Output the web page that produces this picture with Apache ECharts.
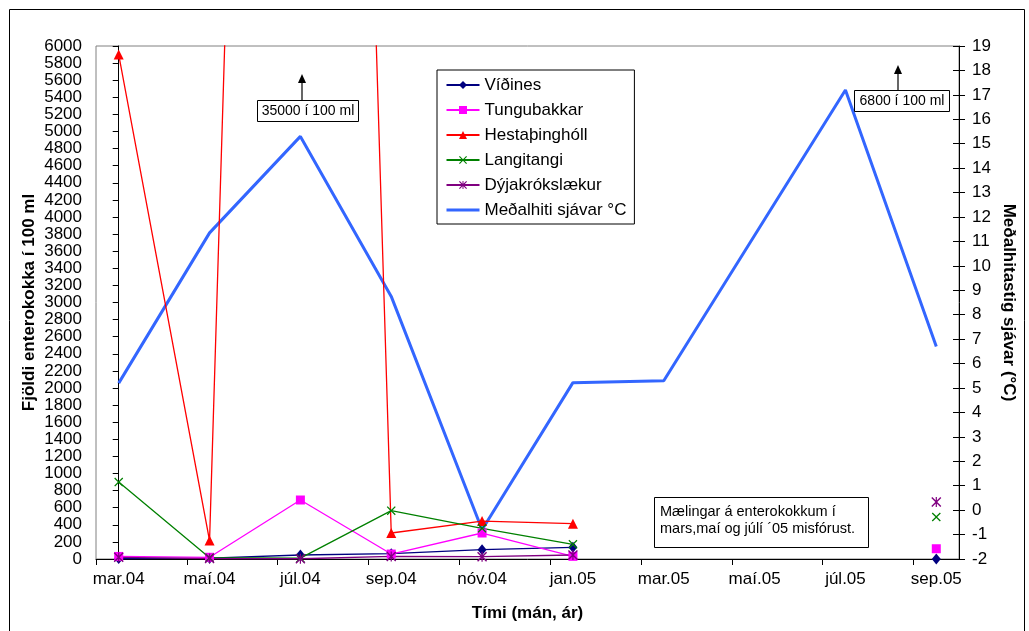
<!DOCTYPE html>
<html><head><meta charset="utf-8">
<script src="https://cdn.jsdelivr.net/npm/echarts@6/dist/echarts.min.js"></script>
<style>html,body{margin:0;padding:0;background:#fff}#c{width:1029px;height:631px}</style>
</head><body><div id="c"></div>
<script>
// ---- data ----
const categories = ['mar.04','maí.04','júl.04','sep.04','nóv.04','jan.05','mar.05','maí.05','júl.05','sep.05'];
const vidines      = [5, 10, 47, 62, 109, 136, null, null, null, 0];
const tungubakkar  = [30, 20, 690, 58, 304, 31, null, null, null, 120];
const hestathing   = [5900, 215, 35000, 304, 444, 413, null, null, null, null];
const langitangi   = [900, 15, 10, 565, 359, 172, null, null, null, 491];
const dyjakroks    = [20, 5, 3, 30, 27, 47, null, null, null, 667];
const seaTemp      = [5.2, 11.35, 15.3, 8.75, -0.8, 5.22, 5.3, null, 17.2, 6.7];
const leftTicks  = {min: 0, max: 6000, interval: 200};
const rightTicks = {min: -2, max: 19, interval: 1};

const F = '"Liberation Sans", Arial, sans-serif';
const toPairs = arr => arr.map((v, i) => [i, v === null ? '-' : v]);
const xTickVals = categories.map((_, i) => i - 0.25);
const xLabelVals = categories.map((_, i) => i);

const X_SYM = 'path://M0,1L1,0L5,4L9,0L10,1L6,5L10,9L9,10L5,6L1,10L0,9L4,5Z';
const AST_SYM = 'path://M0,1L1,0L5,4L9,0L10,1L6,5L10,9L9,10L5,6L1,10L0,9L4,5Z M4.4,0L5.6,0L5.6,10L4.4,10Z';

function bact(name, data, color, symbol, size) {
  return {
    name, type: 'line', data: toPairs(data), xAxisIndex: 0, yAxisIndex: 0,
    symbol, symbolSize: size, showSymbol: true, connectNulls: false, clip: true,
    lineStyle: {color, width: 1.3}, itemStyle: {color, borderWidth: 0},
    emphasis: {disabled: true}, animation: false, z: 3
  };
}

const chart = echarts.init(document.getElementById('c'), null, {renderer: 'canvas'});
const axisTextStyle = {color: '#000', fontFamily: F, fontSize: 17};
const nameStyle = {color: '#000', fontFamily: F, fontSize: 17, fontWeight: 'bold'};
const plain = v => String(v);

chart.setOption({
  animation: false,
  backgroundColor: '#fff',
  grid: {left: 96, right: 70, top: 46, bottom: 72, show: true, borderColor: '#808080', borderWidth: 1, backgroundColor: 'transparent'},
  legend: {
    orient: 'vertical', left: 437, top: 70,
    padding: [5, 8, 4, 8], itemGap: 5, itemWidth: 33, itemHeight: 10,
    borderColor: '#000', borderWidth: 1, backgroundColor: '#fff',
    textStyle: {color: '#000', fontFamily: F, fontSize: 17, lineHeight: 20},
    data: ['Víðines','Tungubakkar','Hestaþinghóll','Langitangi','Dýjakrókslækur',
      {name: 'Meðalhiti sjávar °C', itemStyle: {color: 'rgba(0,0,0,0)', opacity: 0}, lineStyle: {color: '#3366FF', width: 3, opacity: 1}}]
  },
  xAxis: [{
    type: 'value', min: -0.25, max: 9.25,
    name: 'Tími (mán, ár)', nameLocation: 'middle', nameGap: 46, nameTextStyle: nameStyle, nameMoveOverlap: false,
    axisLine: {show: true, onZero: false, lineStyle: {color: '#000', width: 1}},
    axisTick: {show: true, inside: false, length: 6, customValues: xTickVals, lineStyle: {color: '#000'}},
    axisLabel: {show: true, margin: 12, customValues: xLabelVals, ...axisTextStyle,
      formatter: v => categories[Math.round(v)] || ''},
    splitLine: {show: false}
  }],
  yAxis: [{
    type: 'value', position: 'left', ...leftTicks,
    name: 'Fjöldi enterokokka í 100 ml', nameLocation: 'middle', nameGap: 58, nameRotate: 90, nameTextStyle: nameStyle, nameMoveOverlap: false,
    axisLine: {show: true, lineStyle: {color: '#000', width: 1}},
    axisTick: {show: true, inside: false, length: 6, lineStyle: {color: '#000'}},
    axisLabel: {margin: 14, ...axisTextStyle, formatter: plain},
    splitLine: {show: false}
  }, {
    type: 'value', position: 'right', ...rightTicks,
    name: 'Meðalhitastig sjávar (°C)', nameLocation: 'middle', nameGap: 41, nameRotate: -90, nameTextStyle: nameStyle, nameMoveOverlap: false,
    axisLine: {show: true, lineStyle: {color: '#000', width: 1}},
    axisTick: {show: true, inside: false, length: 6, lineStyle: {color: '#000'}},
    axisLabel: {margin: 13, ...axisTextStyle, formatter: plain},
    splitLine: {show: false}
  }, {
    type: 'value', position: 'right', ...rightTicks,
    axisLine: {show: false},
    axisTick: {show: true, inside: true, length: 6, lineStyle: {color: '#000'}},
    axisLabel: {show: false},
    splitLine: {show: false}
  }],
  series: [
    bact('Víðines', vidines, '#000080', 'diamond', [9, 11]),
    bact('Tungubakkar', tungubakkar, '#FF00FF', 'rect', 9),
    bact('Hestaþinghóll', hestathing, '#FF0000', 'triangle', 10),
    bact('Langitangi', langitangi, '#008000', X_SYM, 9),
    bact('Dýjakrókslækur', dyjakroks, '#800080', AST_SYM, 10),
    {
      name: 'Meðalhiti sjávar °C', type: 'line', data: toPairs(seaTemp), xAxisIndex: 0, yAxisIndex: 1,
      symbol: 'none', showSymbol: false, connectNulls: true, clip: true,
      lineStyle: {color: '#3366FF', width: 3}, itemStyle: {color: '#3366FF'},
      emphasis: {disabled: true}, z: 2
    }
  ],
  graphic: [
    {type: 'rect', left: 7, top: 7, z: 100, silent: true,
      shape: {width: 1015, height: 640}, style: {fill: 'none', stroke: '#000', lineWidth: 1}},
    // 35000 annotation
    {type: 'line', z: 100, shape: {x1: 302, y1: 100, x2: 302, y2: 82}, style: {stroke: '#000', lineWidth: 1.2}},
    {type: 'polygon', z: 100, shape: {points: [[302, 74], [298, 83], [306, 83]]}, style: {fill: '#000'}},
    {type: 'rect', z: 100, shape: {x: 257.5, y: 100.5, width: 101, height: 21}, style: {fill: '#fff', stroke: '#000', lineWidth: 1}},
    {type: 'text', z: 101, x: 308, y: 111, style: {text: '35000 í 100 ml', font: '14px "Liberation Sans", Arial, sans-serif', fill: '#000', align: 'center', verticalAlign: 'middle'}},
    // 6800 annotation
    {type: 'line', z: 100, shape: {x1: 898, y1: 90, x2: 898, y2: 73}, style: {stroke: '#000', lineWidth: 1.2}},
    {type: 'polygon', z: 100, shape: {points: [[898, 65], [894, 74], [902, 74]]}, style: {fill: '#000'}},
    {type: 'rect', z: 100, shape: {x: 854.5, y: 90.5, width: 95, height: 21}, style: {fill: '#fff', stroke: '#000', lineWidth: 1}},
    {type: 'text', z: 101, x: 902, y: 101, style: {text: '6800 í 100 ml', font: '14px "Liberation Sans", Arial, sans-serif', fill: '#000', align: 'center', verticalAlign: 'middle'}},
    // note box
    {type: 'rect', z: 100, shape: {x: 654.5, y: 497.5, width: 214, height: 50}, style: {fill: '#fff', stroke: '#000', lineWidth: 1}},
    {type: 'text', z: 101, x: 660, y: 503, style: {text: 'Mælingar á enterokokkum í\nmars,maí og júlí ´05 misfórust.', font: '14.5px "Liberation Sans", Arial, sans-serif', lineHeight: 17, fill: '#000', align: 'left', verticalAlign: 'top'}}
  ]
});
</script></body></html>
